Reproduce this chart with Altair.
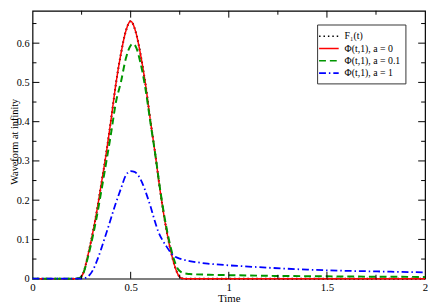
import altair as alt
import pandas as pd

# ---- data ----
names = ["F\u2081(t)", "\u03a6(t,1), a = 0", "\u03a6(t,1), a = 0.1", "\u03a6(t,1), a = 1"]
colors = ["#000000", "#ff0000", "#009600", "#0000ff"]
dashes = [[1.5, 3], [1, 0], [7, 4], [7, 3, 1.5, 3]]
widths = [2.0, 1.5, 2.0, 1.8]

red_t = [0, 0.22, 0.24, 0.26, 0.28, 0.30, 0.325, 0.35, 0.375, 0.40, 0.425, 0.45, 0.475, 0.50,
         0.525, 0.55, 0.575, 0.60, 0.625, 0.65, 0.675, 0.70, 0.72, 0.74, 0.76, 0.78, 2.0]
red_v = [0, 0, 0.002, 0.016, 0.055, 0.10, 0.165, 0.24, 0.318, 0.405, 0.497, 0.572, 0.630, 0.656,
         0.630, 0.572, 0.497, 0.405, 0.318, 0.225, 0.145, 0.08, 0.04, 0.012, 0.001, 0, 0]

f1_t = red_t
f1_v = red_v

green_t = [0, 0.22, 0.24, 0.26, 0.28, 0.30, 0.325, 0.35, 0.375, 0.40, 0.425, 0.45, 0.475, 0.50, 0.51,
           0.525, 0.55, 0.575, 0.60, 0.625, 0.65, 0.675, 0.70, 0.72, 0.74, 0.76, 0.78, 0.80, 0.90,
           1.0, 1.25, 1.5, 1.75, 2.0]
green_v = [0, 0, 0.002, 0.015, 0.05, 0.092, 0.152, 0.222, 0.295, 0.37, 0.45, 0.50, 0.56, 0.594, 0.598,
           0.592, 0.55, 0.485, 0.40, 0.318, 0.228, 0.15, 0.088, 0.05, 0.025, 0.016, 0.013, 0.012, 0.010,
           0.009, 0.007, 0.006, 0.005, 0.0045]

blue_t = [0, 0.25, 0.27, 0.29, 0.31, 0.33, 0.35, 0.37, 0.39, 0.42, 0.45, 0.475, 0.50, 0.52, 0.54,
          0.56, 0.58, 0.60, 0.62, 0.64, 0.66, 0.68, 0.70, 0.715, 0.73, 0.75, 0.80, 0.90, 1.0, 1.2,
          1.4, 1.6, 1.8, 2.0]
blue_v = [0, 0, 0.002, 0.009, 0.024, 0.048, 0.076, 0.107, 0.138, 0.186, 0.229, 0.263, 0.274, 0.272,
          0.262, 0.243, 0.216, 0.186, 0.152, 0.121, 0.10, 0.084, 0.069, 0.06, 0.055, 0.051, 0.045,
          0.038, 0.034, 0.028, 0.023, 0.020, 0.018, 0.016]

x_ticks = [0, 0.5, 1, 1.5, 2]
y_ticks = [0, 0.1, 0.2, 0.3, 0.4, 0.5, 0.6]
x_major = [0.5, 1, 1.5]
x_minor = [0.25, 0.75, 1.25, 1.75]
y_major = [0.1, 0.2, 0.3, 0.4, 0.5, 0.6]
y_minor = [0.05, 0.15, 0.25, 0.35, 0.45, 0.55, 0.65]

W, H = 400, 273
FONT = "Liberation Serif"

series = [(f1_t, f1_v), (red_t, red_v), (green_t, green_v), (blue_t, blue_v)]

x_scale = alt.Scale(domain=[0, 2], nice=False, zero=False)
y_scale = alt.Scale(domain=[0, 0.6825], nice=False, zero=False)
color_scale = alt.Scale(domain=names, range=colors)
dash_scale = alt.Scale(domain=names, range=dashes)

x_axis = alt.Axis(values=x_ticks, format="~g", title="Time", ticks=False, domain=False, grid=False,
                  labelFlush=False, labelPadding=3, labelFont=FONT, labelFontSize=11,
                  labelColor="black", titleFont=FONT, titleFontSize=11, titleFontWeight="normal",
                  titleColor="black", titleBaseline="alphabetic", titleY=23)
y_axis = alt.Axis(values=y_ticks, format="~g", title="Waveform at infinity", ticks=False, domain=False,
                  grid=False, labelFlush=False, labelPadding=3.5, labelFont=FONT, labelFontSize=10.5,
                  labelColor="black", titleFont=FONT, titleFontSize=10.5, titleFontWeight="normal",
                  titleColor="black", titleBaseline="alphabetic", titleX=-15.5, titleY=133)
legend = alt.Legend(title=None, orient="none", legendX=290, legendY=14, strokeColor="#333333",
                    fillColor="white", padding=5, symbolType="M-1.667,0H1.667", symbolSize=144,
                    symbolStrokeWidth=1.6, labelFont=FONT, labelFontSize=10, labelOffset=9,
                    labelColor="black", rowPadding=0.5)

layers = []
for name, (ts, vs), sw in zip(names, series, widths):
    df = pd.DataFrame({"t": ts, "v": vs, "series": name})
    layers.append(
        alt.Chart(df).mark_line(strokeWidth=sw, interpolate="monotone").encode(
            x=alt.X("t:Q", scale=x_scale, axis=x_axis),
            y=alt.Y("v:Q", scale=y_scale, axis=y_axis),
            color=alt.Color("series:N", scale=color_scale, legend=legend),
            strokeDash=alt.StrokeDash("series:N", scale=dash_scale, legend=legend),
        )
    )


def xticks(vals, length):
    df = pd.DataFrame({"t": vals})
    base = alt.Chart(df).mark_rule(color="black", strokeWidth=1)
    bottom = base.encode(x=alt.X("t:Q", scale=x_scale, axis=x_axis), y=alt.value(H), y2=alt.value(H - length))
    top = base.encode(x=alt.X("t:Q", scale=x_scale, axis=x_axis), y=alt.value(0), y2=alt.value(length))
    return [bottom, top]


def yticks(vals, length):
    df = pd.DataFrame({"v": vals})
    base = alt.Chart(df).mark_rule(color="black", strokeWidth=1)
    left = base.encode(y=alt.Y("v:Q", scale=y_scale, axis=y_axis), x=alt.value(0), x2=alt.value(length))
    right = base.encode(y=alt.Y("v:Q", scale=y_scale, axis=y_axis), x=alt.value(W), x2=alt.value(W - length))
    return [left, right]


layers += xticks(x_major, 7) + xticks(x_minor, 4) + yticks(y_major, 7) + yticks(y_minor, 4)

chart = alt.layer(*layers).properties(
    width=W, height=H,
    autosize=alt.AutoSizeParams(type="none"),
    padding={"left": 25, "top": 0, "right": 3, "bottom": 25},
    background="white",
).configure_view(stroke="black", strokeWidth=1.2)

chart.save("out.html", embed_options={"renderer": "svg", "actions": False})
